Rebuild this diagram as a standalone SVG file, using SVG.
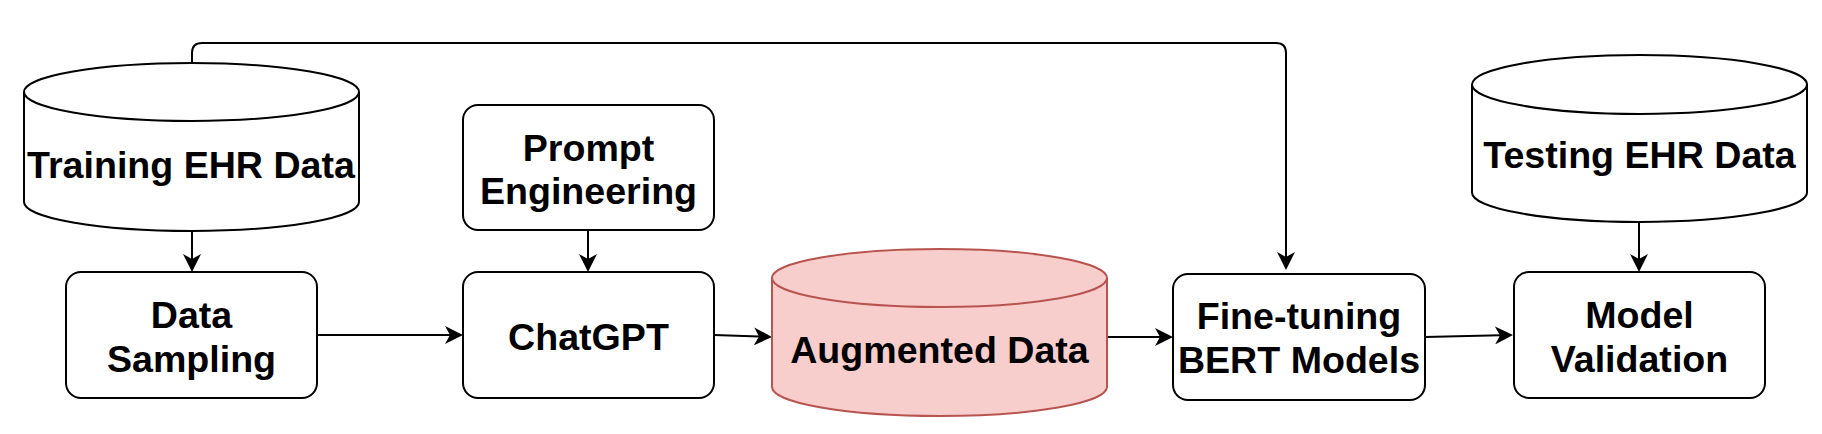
<svg xmlns="http://www.w3.org/2000/svg" width="1822" height="434" viewBox="0 0 1822 434">
<style>
.n{fill:#fff;stroke:#000;stroke-width:2}
.p{fill:#f8cecc;stroke:#b85450;stroke-width:2}
.t{font-family:"Liberation Sans",Arial,Helvetica,sans-serif;font-weight:bold;font-size:37.6px;fill:#000;text-anchor:middle}
.c{fill:none;stroke:#000;stroke-width:2}
</style>
<defs>
<marker id="ah" viewBox="0 0 18 18" refX="5" refY="9" markerWidth="18" markerHeight="18" markerUnits="userSpaceOnUse" orient="auto">
<path d="M0,0 L18,9 L0,18 L5,9 Z" fill="#000"/>
</marker>
</defs>
<rect width="1822" height="434" fill="#fff"/>
<g id="connectors">
<path class="c" d="M192,63 V53 Q192,43 202,43 H1276 Q1286,43 1286,53 V257" marker-end="url(#ah)"/>
<path class="c" d="M192,231 V259" marker-end="url(#ah)"/>
<path class="c" d="M588,230 V259" marker-end="url(#ah)"/>
<path class="c" d="M317,335 H450" marker-end="url(#ah)"/>
<path class="c" d="M714,335 L759,336.6" marker-end="url(#ah)"/>
<path class="c" d="M1107,337 H1160" marker-end="url(#ah)"/>
<path class="c" d="M1425,337 L1500,335.3" marker-end="url(#ah)"/>
<path class="c" d="M1639,222 V259" marker-end="url(#ah)"/>
</g>
<g id="training">
<path class="n" d="M24,92 V202 A167.5,29 0 0 0 359,202 V92"/>
<ellipse class="n" cx="191.5" cy="92" rx="167.5" ry="29"/>
<text class="t" x="191" y="178">Training EHR Data</text>
</g>
<g id="sampling">
<rect class="n" x="66" y="272" width="251" height="126" rx="15"/>
<text class="t" x="191.5" y="328">Data</text>
<text class="t" x="191.5" y="372">Sampling</text>
</g>
<g id="prompt">
<rect class="n" x="463" y="105" width="251" height="125" rx="15"/>
<text class="t" x="588.5" y="161">Prompt</text>
<text class="t" x="588.5" y="204">Engineering</text>
</g>
<g id="chatgpt">
<rect class="n" x="463" y="272" width="251" height="126" rx="15"/>
<text class="t" x="588.5" y="350">ChatGPT</text>
</g>
<g id="augmented">
<path class="p" d="M772,278 V387 A167.5,29 0 0 0 1107,387 V278"/>
<ellipse class="p" cx="939.5" cy="278" rx="167.5" ry="29"/>
<text class="t" x="939.5" y="363">Augmented Data</text>
</g>
<g id="finetuning">
<rect class="n" x="1173" y="274" width="252" height="126" rx="15"/>
<text class="t" x="1299" y="329">Fine-tuning</text>
<text class="t" x="1299" y="373">BERT Models</text>
</g>
<g id="testing">
<path class="n" d="M1472,84.5 V192.5 A167.5,29.5 0 0 0 1807,192.5 V84.5"/>
<ellipse class="n" cx="1639.5" cy="84.5" rx="167.5" ry="29.5"/>
<text class="t" x="1639.5" y="168">Testing EHR Data</text>
</g>
<g id="validation">
<rect class="n" x="1514" y="272" width="251" height="126" rx="15"/>
<text class="t" x="1639.5" y="328">Model</text>
<text class="t" x="1639.5" y="372">Validation</text>
</g>
</svg>
